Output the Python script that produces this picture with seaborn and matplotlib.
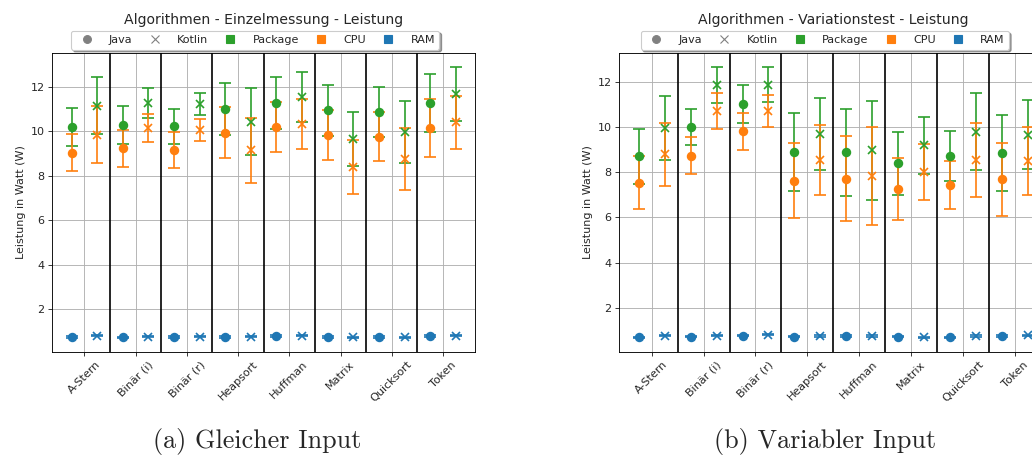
import numpy as np
import matplotlib
matplotlib.use("Agg")
import matplotlib.pyplot as plt
from matplotlib.lines import Line2D
import seaborn as sns

algorithms = ["A-Stern", "Binär (i)", "Binär (r)", "Heapsort", "Huffman",
              "Matrix", "Quicksort", "Token"]

# --- Gleicher Input (Einzelmessung): mean and standard deviation in W ---
einzel_pkg_java = [10.18, 10.26, 10.21, 10.99, 11.27, 10.93, 10.84, 11.25]
einzel_pkg_java_sd = [0.86, 0.85, 0.79, 1.16, 1.17, 1.15, 1.12, 1.30]
einzel_pkg_kotlin = [11.15, 11.28, 11.22, 10.42, 11.53, 9.64, 9.96, 11.68]
einzel_pkg_kotlin_sd = [1.30, 0.67, 0.50, 1.50, 1.13, 1.23, 1.41, 1.22]
einzel_cpu_java = [9.03, 9.22, 9.15, 9.92, 10.18, 9.81, 9.74, 10.15]
einzel_cpu_java_sd = [0.84, 0.82, 0.79, 1.15, 1.14, 1.12, 1.10, 1.30]
einzel_cpu_kotlin = [9.84, 10.13, 10.06, 9.13, 10.32, 8.40, 8.73, 10.40]
einzel_cpu_kotlin_sd = [1.27, 0.63, 0.50, 1.48, 1.13, 1.22, 1.40, 1.20]
einzel_ram_java = [0.74, 0.73, 0.74, 0.74, 0.78, 0.74, 0.74, 0.78]
einzel_ram_java_sd = [0.03, 0.03, 0.03, 0.03, 0.03, 0.03, 0.03, 0.03]
einzel_ram_kotlin = [0.80, 0.76, 0.76, 0.76, 0.80, 0.72, 0.73, 0.80]
einzel_ram_kotlin_sd = [0.03, 0.03, 0.03, 0.03, 0.03, 0.03, 0.03, 0.03]

# --- Variabler Input (Variationstest) ---
var_pkg_java = [8.71, 10.00, 11.02, 8.90, 8.89, 8.40, 8.71, 8.85]
var_pkg_java_sd = [1.22, 0.81, 0.85, 1.73, 1.93, 1.39, 1.10, 1.68]
var_pkg_kotlin = [9.96, 11.88, 11.88, 9.70, 8.97, 9.19, 9.80, 9.67]
var_pkg_kotlin_sd = [1.40, 0.80, 0.76, 1.58, 2.20, 1.25, 1.69, 1.53]
var_cpu_java = [7.54, 8.72, 9.82, 7.63, 7.72, 7.24, 7.43, 7.69]
var_cpu_java_sd = [1.19, 0.82, 0.82, 1.68, 1.90, 1.37, 1.07, 1.62]
var_cpu_kotlin = [8.80, 10.71, 10.72, 8.55, 7.84, 8.01, 8.54, 8.49]
var_cpu_kotlin_sd = [1.39, 0.78, 0.72, 1.56, 2.17, 1.24, 1.65, 1.51]
var_ram_java = [0.68, 0.71, 0.76, 0.71, 0.74, 0.71, 0.68, 0.74]
var_ram_java_sd = [0.03, 0.03, 0.03, 0.03, 0.03, 0.03, 0.03, 0.03]
var_ram_kotlin = [0.76, 0.76, 0.81, 0.74, 0.74, 0.68, 0.74, 0.77]
var_ram_kotlin_sd = [0.03, 0.03, 0.03, 0.03, 0.03, 0.03, 0.03, 0.03]

palette = sns.color_palette("tab10")
colors = {"Package": palette[2], "CPU": palette[1], "RAM": palette[0]}
lang_marker = {"Java": "o", "Kotlin": "x"}
lang_offset = {"Java": -0.25, "Kotlin": 0.25}

datasets = [
    ("Algorithmen - Einzelmessung - Leistung", "(a) Gleicher Input", {
        "Package": {"Java": (einzel_pkg_java, einzel_pkg_java_sd),
                    "Kotlin": (einzel_pkg_kotlin, einzel_pkg_kotlin_sd)},
        "CPU": {"Java": (einzel_cpu_java, einzel_cpu_java_sd),
                "Kotlin": (einzel_cpu_kotlin, einzel_cpu_kotlin_sd)},
        "RAM": {"Java": (einzel_ram_java, einzel_ram_java_sd),
                "Kotlin": (einzel_ram_kotlin, einzel_ram_kotlin_sd)},
    }),
    ("Algorithmen - Variationstest - Leistung", "(b) Variabler Input", {
        "Package": {"Java": (var_pkg_java, var_pkg_java_sd),
                    "Kotlin": (var_pkg_kotlin, var_pkg_kotlin_sd)},
        "CPU": {"Java": (var_cpu_java, var_cpu_java_sd),
                "Kotlin": (var_cpu_kotlin, var_cpu_kotlin_sd)},
        "RAM": {"Java": (var_ram_java, var_ram_java_sd),
                "Kotlin": (var_ram_kotlin, var_ram_kotlin_sd)},
    }),
]

sns.set_style("ticks")
plt.rcParams["font.family"] = ["DejaVu Sans"]

fig = plt.figure(figsize=(12.9, 5.7125), dpi=80)
positions = [[0.0507, 0.2304, 0.4096, 0.6536],
             [0.6001, 0.2304, 0.4147, 0.6536]]
caption_x = [0.249, 0.799]

x = np.arange(len(algorithms))
for (title, caption, data), pos, cx in zip(datasets, positions, caption_x):
    ax = fig.add_axes(pos)
    ax.grid(True, color="#b0b0b0", linewidth=0.8)
    ax.set_axisbelow(True)
    for comp in ["Package", "CPU", "RAM"]:
        for lang in ["Java", "Kotlin"]:
            mean, sd = data[comp][lang]
            ax.errorbar(x + lang_offset[lang], mean, yerr=sd,
                        fmt=lang_marker[lang], color=colors[comp],
                        markersize=7, capsize=5, elinewidth=1.5,
                        markeredgewidth=1.5, linestyle="none")
    for b in np.arange(len(algorithms) - 1) + 0.5:
        ax.axvline(b, color="black", linewidth=1.5)
    ax.set_xticks(x)
    ax.set_xticklabels(algorithms, rotation=45)
    ax.set_ylabel("Leistung in Watt (W)")
    ax.set_title(title, pad=26, fontsize=12.6)
    for s in ax.spines.values():
        s.set_color("black")
        s.set_linewidth(0.8)

    handles = [
        Line2D([], [], marker="o", color="gray", linestyle="none", markersize=7),
        Line2D([], [], marker="x", color="gray", linestyle="none", markersize=7),
        Line2D([], [], marker="s", color=colors["Package"], linestyle="none", markersize=7),
        Line2D([], [], marker="s", color=colors["CPU"], linestyle="none", markersize=7),
        Line2D([], [], marker="s", color=colors["RAM"], linestyle="none", markersize=7),
    ]
    ax.legend(handles, ["Java", "Kotlin", "Package", "CPU", "RAM"],
              loc="lower center", bbox_to_anchor=(0.48, 1.0), ncol=5,
              shadow=True, borderaxespad=0.3, columnspacing=1.0,
              handletextpad=1.0)

    fig.text(cx, 0.033, caption, ha="center", va="center",
             fontsize=23.5, family="cmr10")

fig.savefig("out.png", dpi=80)
